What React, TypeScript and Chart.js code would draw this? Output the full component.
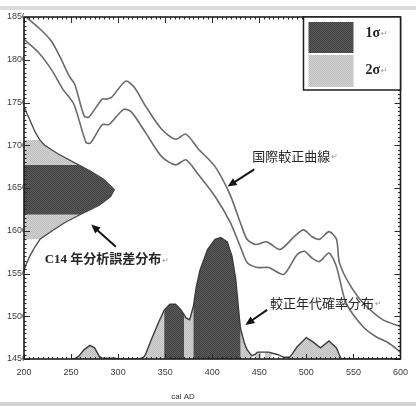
import { useEffect, useRef } from 'react';
import { Chart, registerables } from 'chart.js';

Chart.register(...registerables);

// Axis ranges and tick labels
const X_MIN = 200;
const X_MAX = 600;
const Y_MIN = 1450;
const Y_MAX = 1850;
const xTickValues = [200, 250, 300, 350, 400, 450, 500, 550, 600];
const yTickValues = [1450, 1500, 1550, 1600, 1650, 1700, 1750, 1800, 1850];

// Calibration curve envelope (cal AD vs. radiocarbon BP)
const upperYears = [200, 217, 229, 238, 248, 254, 264, 269, 283, 288, 293, 308, 317, 329, 346, 361, 372, 385, 403, 419, 430, 437, 446, 458, 472, 487, 497, 506, 514, 524, 532, 535, 545, 560, 581, 600];
const upperBP = [1852, 1836, 1822, 1804, 1781, 1771, 1734, 1733, 1754, 1754, 1756, 1775, 1768, 1746, 1719, 1707, 1713, 1696, 1675, 1642, 1609, 1590, 1584, 1587, 1578, 1593, 1601, 1593, 1590, 1599, 1590, 1563, 1539, 1516, 1496, 1488];
const lowerYears = [200, 215, 230, 241, 253, 266, 271, 283, 290, 293, 306, 314, 329, 346, 361, 372, 385, 403, 419, 430, 437, 448, 460, 476, 490, 498, 506, 514, 524, 532, 542, 560, 574, 587, 600];
const lowerBP = [1824, 1809, 1787, 1766, 1748, 1703, 1703, 1724, 1724, 1727, 1742, 1739, 1715, 1687, 1677, 1683, 1666, 1640, 1610, 1581, 1563, 1557, 1557, 1549, 1572, 1576, 1568, 1564, 1574, 1558, 1516, 1488, 1476, 1469, 1458];

// Measured radiocarbon age distribution, drawn sideways against the BP axis
const c14BP = [1745, 1735, 1725, 1715, 1706, 1700, 1690, 1677, 1670, 1660, 1648, 1640, 1630, 1619, 1610, 1600, 1590, 1580, 1570, 1560, 1552];
const c14Spread = [200, 204, 208, 212, 217, 222, 236, 258, 270, 285, 296, 292, 280, 260, 244, 230, 217, 211, 206, 202, 200];
const c14Sigma1: [number, number] = [1619, 1677];
const c14Sigma2: [number, number] = [1590, 1706];

// Calibrated age probability (height above the 1450 BP baseline)
const calAD = [250, 253, 258, 264, 270, 275, 280, 283, 297, 300, 322, 327, 329, 335, 343, 349, 355, 361, 367, 370, 372, 376, 380, 383, 387, 395, 403, 409, 416, 421, 425, 429, 430, 434, 437, 442, 445, 448, 452, 456, 460, 463, 470, 476, 482, 485, 490, 500, 507, 515, 524, 532, 535, 537, 600];
const calProb = [0, 0, 3, 11, 16, 13, 3, 1, 1, 0, 0, 2, 5, 22, 43, 57, 64, 64, 57, 52, 48, 46, 62, 84, 104, 128, 140, 142, 137, 120, 93, 46, 36, 19, 11, 4, 5, 8, 8, 8, 8, 7, 5, 2, 2, 6, 14, 25, 20, 13, 21, 13, 5, 0, 0];
const sigma1Ranges: [number, number][] = [[349, 370], [380, 430]];
const sigma2Ranges: [number, number][] = [[253, 283], [329, 349], [370, 380], [430, 442], [445, 452], [456, 463], [482, 537]];

const legendLabels = ['1σ', '2σ'];
const labelCurve = '国際較正曲線';
const labelC14 = 'C14 年分析誤差分布';
const labelCal = '較正年代確率分布';
const axisTitle = 'cal AD';

const BASE = Y_MIN;
const DARK = '#525252';
const LIGHT = '#cacaca';

function makePattern(a: string, b: string): CanvasPattern | string {
  const c = document.createElement('canvas');
  c.width = 2;
  c.height = 2;
  const g = c.getContext('2d');
  if (!g) return a;
  g.fillStyle = a;
  g.fillRect(0, 0, 2, 2);
  g.fillStyle = b;
  g.fillRect(0, 0, 1, 1);
  g.fillRect(1, 1, 1, 1);
  const p = g.createPattern(c, 'repeat');
  return p || a;
}

function bandPoints(lo: number, hi: number) {
  const pts = [{ x: lo, y: BASE }];
  calAD.forEach((yr, i) => {
    if (yr >= lo && yr <= hi) pts.push({ x: yr, y: BASE + calProb[i] });
  });
  pts.push({ x: hi, y: BASE });
  return pts;
}

function c14Points(lo: number, hi: number) {
  const pts = [{ x: X_MIN, y: hi }];
  c14BP.forEach((bp, i) => {
    if (bp >= lo && bp <= hi) pts.push({ x: c14Spread[i], y: bp });
  });
  pts.push({ x: X_MIN, y: lo });
  return pts;
}

function drawArrow(ctx: CanvasRenderingContext2D, x1: number, y1: number, x2: number, y2: number) {
  const ang = Math.atan2(y2 - y1, x2 - x1);
  const head = 9;
  const half = 4;
  ctx.save();
  ctx.strokeStyle = '#151515';
  ctx.fillStyle = '#151515';
  ctx.lineWidth = 2;
  ctx.beginPath();
  ctx.moveTo(x1, y1);
  ctx.lineTo(x2 - Math.cos(ang) * head * 0.8, y2 - Math.sin(ang) * head * 0.8);
  ctx.stroke();
  ctx.beginPath();
  ctx.moveTo(x2, y2);
  ctx.lineTo(x2 - Math.cos(ang) * head - Math.sin(ang) * half, y2 - Math.sin(ang) * head + Math.cos(ang) * half);
  ctx.lineTo(x2 - Math.cos(ang) * head + Math.sin(ang) * half, y2 - Math.sin(ang) * head - Math.cos(ang) * half);
  ctx.closePath();
  ctx.fill();
  ctx.restore();
}

function drawLabel(ctx: CanvasRenderingContext2D, text: string, x: number, y: number, font: string) {
  ctx.save();
  ctx.font = font;
  ctx.fillStyle = '#262626';
  ctx.textBaseline = 'middle';
  ctx.textAlign = 'left';
  ctx.fillText(text, x, y);
  const w = ctx.measureText(text).width;
  ctx.font = '8px "DejaVu Sans"';
  ctx.fillStyle = '#9a9a9a';
  ctx.fillText('↵', x + w + 1, y + 1);
  ctx.restore();
}

const decorations = {
  id: 'decorations',
  beforeDraw(chart: any) {
    const { ctx, width, height } = chart;
    ctx.save();
    ctx.fillStyle = '#dcdcdc';
    ctx.fillRect(0, 6, width, 4);
    ctx.fillStyle = '#d2d2d2';
    ctx.fillRect(0, height - 4, width, 4);
    ctx.restore();
  },
  afterDatasetsDraw(chart: any) {
    const { ctx, chartArea } = chart;
    const { left, right, top, bottom } = chartArea;
    const xs = chart.scales.x;
    const ys = chart.scales.y;
    const px = (v: number) => xs.getPixelForValue(v);
    const py = (v: number) => ys.getPixelForValue(v);

    ctx.save();
    // inward ticks on all four sides
    ctx.strokeStyle = '#2a2a2a';
    ctx.lineWidth = 1;
    ctx.beginPath();
    for (let v = X_MIN; v <= X_MAX; v += 5) {
      const p = Math.round(px(v)) + 0.5;
      const major = v % 50 === 0;
      const len = major ? 6 : 2.5;
      ctx.moveTo(p, top);
      ctx.lineTo(p, top + len);
      ctx.moveTo(p, bottom);
      ctx.lineTo(p, bottom - (major ? 5 : 2));
    }
    for (let v = Y_MIN; v <= Y_MAX; v += 5) {
      const p = Math.round(py(v)) + 0.5;
      const major = v % 50 === 0;
      const len = major ? 6 : 2.5;
      ctx.moveTo(left, p);
      ctx.lineTo(left + len, p);
      ctx.moveTo(right, p);
      ctx.lineTo(right - len, p);
    }
    ctx.stroke();
    // frame
    ctx.strokeStyle = '#1e1e1e';
    ctx.lineWidth = 1.6;
    ctx.strokeRect(left, top, right - left, bottom - top);

    // legend
    const lx = right - 97;
    const ly = top;
    ctx.fillStyle = '#ffffff';
    ctx.fillRect(lx, ly, 97, 73);
    ctx.fillStyle = makePattern('#5c5c5c', '#404040');
    ctx.fillRect(lx + 5, ly + 5, 45, 31);
    ctx.fillStyle = makePattern('#d2d2d2', '#bebebe');
    ctx.fillRect(lx + 5, ly + 38, 45, 32);
    ctx.strokeStyle = '#1e1e1e';
    ctx.lineWidth = 1.5;
    ctx.strokeRect(lx, ly, 97, 73);
    drawLabel(ctx, legendLabels[0], lx + 62, ly + 16, 'bold 14px "Liberation Serif"');
    drawLabel(ctx, legendLabels[1], lx + 62, ly + 53, 'bold 14px "Liberation Serif"');

    // annotations
    const jp = '13px "Noto Sans CJK JP"';
    drawLabel(ctx, labelCurve, px(442.5), py(1687), jp);
    drawArrow(ctx, px(444.6), py(1671.7), px(416.3), py(1651.8));
    drawLabel(ctx, labelC14, px(222), py(1566), 'bold 13px "Liberation Serif", "Noto Sans CJK JP"');
    drawArrow(ctx, px(297.6), py(1581.4), px(271.4), py(1607.2));
    drawLabel(ctx, labelCal, px(461.4), py(1515.7), jp);
    drawArrow(ctx, px(458.3), py(1507.5), px(435.2), py(1489.9));

    // axis title
    ctx.font = '8px "Liberation Sans"';
    ctx.fillStyle = '#333';
    ctx.textAlign = 'center';
    ctx.textBaseline = 'middle';
    ctx.fillText(axisTitle, px(369), bottom + 38);
    ctx.restore();
  },
};

export default function App() {
  const ref = useRef<HTMLCanvasElement | null>(null);

  useEffect(() => {
    const canvas = ref.current;
    if (!canvas) return;
    const darkFill = makePattern('#5c5c5c', '#404040');
    const lightFill = makePattern('#d2d2d2', '#bebebe');

    const datasets: any[] = [];
    datasets.push({
      data: upperYears.map((x, i) => ({ x, y: upperBP[i] })),
      borderColor: '#6a6a6a', borderWidth: 1.6, fill: false, order: 1, tension: 0.25,
    });
    datasets.push({
      data: lowerYears.map((x, i) => ({ x, y: lowerBP[i] })),
      borderColor: '#6a6a6a', borderWidth: 1.6, fill: false, order: 1, tension: 0.25,
    });
    datasets.push({
      data: calAD.map((x, i) => ({ x, y: BASE + calProb[i] })),
      borderColor: '#3c3c3c', borderWidth: 1.4, fill: false, order: 2,
    });
    datasets.push({
      data: c14BP.map((y, i) => ({ x: c14Spread[i], y })),
      borderColor: '#4a4a4a', borderWidth: 1.3, fill: false, order: 2,
    });
    sigma1Ranges.forEach(([a, b]) => datasets.push({
      data: bandPoints(a, b), borderWidth: 0, borderColor: DARK,
      backgroundColor: darkFill, fill: 'shape', order: 3,
    }));
    sigma2Ranges.forEach(([a, b]) => datasets.push({
      data: bandPoints(a, b), borderWidth: 0, borderColor: LIGHT,
      backgroundColor: lightFill, fill: 'shape', order: 4,
    }));
    datasets.push({
      data: c14Points(c14Sigma1[0], c14Sigma1[1]), borderWidth: 0, borderColor: DARK,
      backgroundColor: darkFill, fill: 'shape', order: 3,
    });
    datasets.push({
      data: c14Points(c14Sigma2[0], c14Sigma2[1]), borderWidth: 0, borderColor: LIGHT,
      backgroundColor: lightFill, fill: 'shape', order: 4,
    });

    const tickFont = { family: '"Liberation Sans"', size: 9 };
    const chart = new Chart(canvas, {
      type: 'line',
      data: { datasets },
      plugins: [decorations],
      options: {
        responsive: false,
        animation: false,
        events: [],
        layout: { padding: { top: 17, right: 11, left: 0, bottom: 0 } },
        elements: { point: { radius: 0 }, line: { tension: 0 } },
        plugins: { legend: { display: false }, tooltip: { enabled: false } },
        scales: {
          x: {
            type: 'linear', min: X_MIN, max: X_MAX,
            grid: { display: false, drawTicks: false },
            border: { display: false },
            afterFit: (s: any) => { s.height = 47; },
            afterBuildTicks: (s: any) => { s.ticks = xTickValues.map((value) => ({ value })); },
            ticks: { autoSkip: false, maxRotation: 0, padding: 8, color: '#3a3a3a', font: tickFont, callback: (v: any) => String(v) },
          },
          y: {
            type: 'linear', min: Y_MIN, max: Y_MAX,
            grid: { display: false, drawTicks: false },
            border: { display: false },
            afterFit: (s: any) => { s.width = 24; },
            afterBuildTicks: (s: any) => { s.ticks = yTickValues.map((value) => ({ value })); },
            ticks: { autoSkip: false, padding: -3, color: '#3a3a3a', font: tickFont, callback: (v: any) => String(v) },
          },
        },
      },
    });
    return () => chart.destroy();
  }, []);

  return (
    <div style={{ position: 'fixed', left: 0, top: 0, width: 416, height: 406, background: '#fff' }}>
      <canvas ref={ref} width={416} height={406} />
    </div>
  );
}
